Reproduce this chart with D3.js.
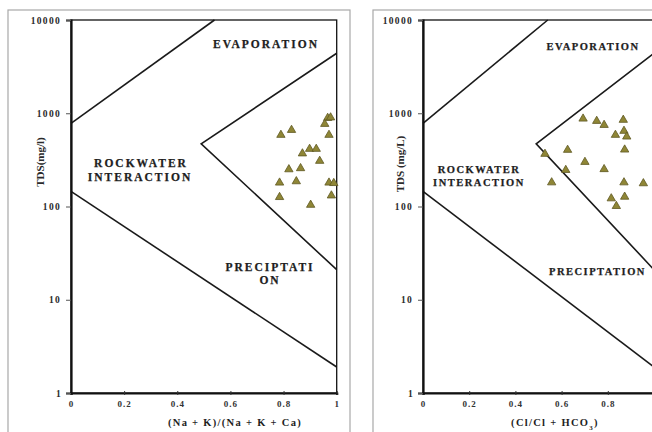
<!DOCTYPE html>
<html>
<head>
<meta charset="utf-8">
<script src="https://cdn.jsdelivr.net/npm/d3@7"></script>
<style>
body { margin:0; background:#fff; }
svg text { font-family: 'Liberation Serif', 'Times New Roman', serif; font-weight: bold; fill:#1e1e1e; }
</style>
</head>
<body>
<div id="chart"></div>
<script>
// tick values
var xTicks = [0, 0.2, 0.4, 0.6, 0.8, 1];
var yTicks = [1, 10, 100, 1000, 10000];
// Gibbs boundary lines [ratio, TDS]
var upperLeft = [[0, 780], [0.54, 10000]];
var lowerLeft = [[0, 145], [1, 1.9]];
var wedge = [[1, 4400], [0.49, 470], [1, 21]];
// samples, cation ratio
var naRatio = [0.79, 0.83, 0.966, 0.955, 0.971, 0.898, 0.923, 0.871, 0.936, 0.82, 0.864, 0.785, 0.848, 0.971, 0.989, 0.785, 0.98, 0.902, 0.977];
var tdsNa = [585, 661, 889, 767, 585, 414, 414, 370, 308, 250, 257, 180, 186, 180, 178, 126, 131, 104, 900];
// samples, anion ratio
var clRatio = [0.693, 0.752, 0.784, 0.867, 0.833, 0.87, 0.882, 0.626, 0.873, 0.528, 0.701, 0.784, 0.618, 0.557, 0.87, 0.954, 0.815, 0.873, 0.837];
var tdsCl = [874, 826, 748, 848, 585, 646, 561, 404, 407, 366, 300, 251, 246, 181, 181, 177, 122, 127, 101];

var svg = d3.select('#chart')
	.append('svg')
	.attr('width', 652)
	.attr('height', 432);

function panel(opt) {
	var g = svg.append('g');
	// outer frame
	g.append('rect')
		.attr('x', opt.box[0]).attr('y', 10)
		.attr('width', opt.box[1]-opt.box[0]).attr('height', 440)
		.style('fill', 'none').style('stroke', '#a8a8a8').style('stroke-width', 1.2);

	var x = d3.scaleLinear().domain([0, 1]).range([opt.x0, opt.x1]);
	var y = d3.scaleLog().domain([1, 10000]).range([393, 20]);

	// boundaries
	var line = d3.line().x(d=>x(d[0])).y(d=>y(d[1]));
	[upperLeft, lowerLeft, wedge].forEach(function (l) {
		g.append('path')
			.attr('d', line(l))
			.style('fill', 'none').style('stroke', '#1a1a1a').style('stroke-width', 1.6);
	});

	// plot frame
	g.append('rect')
		.attr('x', x(0)).attr('y', y(10000))
		.attr('width', x(1)-x(0)).attr('height', y(1)-y(10000))
		.style('fill', 'none').style('stroke', '#111').style('stroke-width', 1.3);

	// axes
	var xa = g.append('g')
		.attr('transform', 'translate(0,'+y(1)+')')
		.call(d3.axisBottom(x).tickValues(xTicks).tickSize(2).tickPadding(6).tickFormat(d3.format('')));
	xa.select('.domain').style('stroke', '#111').style('stroke-width', 2.2);
	xa.selectAll('.tick line').attr('y1', -2).style('stroke', '#333');
	xa.selectAll('.tick text').style('font-size', '9px').style('letter-spacing', '1px').style('fill', '#333');
	if (opt.hideLast) xa.selectAll('.tick').filter(d=>d===1).remove();

	var ya = g.append('g')
		.attr('transform', 'translate('+x(0)+',0)')
		.call(d3.axisLeft(y).tickValues(yTicks).tickSize(5).tickPadding(5).tickFormat(d3.format('d')));
	ya.select('.domain').style('stroke', '#111').style('stroke-width', 2.2);
	ya.selectAll('.tick line').style('stroke', '#555');
	ya.selectAll('.tick text').style('font-size', '9.5px').style('letter-spacing', '1.3px').style('fill', '#2a2a2a');
	ya.selectAll('.tick').filter(d=>d===1).select('text').attr('x', -9);

	// axis titles
	g.append('text')
		.attr('x', opt.xTitleX).attr('y', 426)
		.attr('text-anchor', 'middle')
		.style('font-size', '10.5px').style('letter-spacing', '1.3px')
		.html(opt.xTitle);
	g.append('text')
		.attr('transform', 'translate('+opt.yTitleX+','+opt.yTitleY+') rotate(-90)')
		.attr('text-anchor', 'middle')
		.style('font-size', '11px').style('fill', '#2a2a2a')
		.text(opt.yTitle);

	// region labels
	opt.labels.forEach(function (l) {
		g.append('text')
			.attr('x', l[0]).attr('y', l[1])
			.attr('text-anchor', l[3] || 'middle')
			.style('font-size', opt.labelSize+'px').style('letter-spacing', opt.labelSpacing+'px')
			.style('stroke', '#1e1e1e').style('stroke-width', 0.25)
			.text(l[2]);
	});

	// samples
	g.append('g')
		.selectAll('path')
		.data(opt.xs)
		.enter()
		.append('path')
		.attr('d', d3.symbol().type(d3.symbolTriangle).size(30))
		.attr('transform', (d, i)=>'translate('+x(d)+','+y(opt.ys[i])+')')
		.style('fill', '#8f8636')
		.style('stroke', '#5e5822')
		.style('stroke-width', 0.8);
}

panel({
	box: [8, 350], x0: 71, x1: 336.7,
	xs: naRatio, ys: tdsNa,
	xTitle: '(Na + K)/(Na + K + Ca)', xTitleX: 235,
	yTitle: 'TDS(mg/l)', yTitleX: 44, yTitleY: 162,
	labelSize: 11.5, labelSpacing: 2,
	labels: [[266, 48, 'EVAPORATION'], [141, 167, 'ROCKWATER'], [140, 181, 'INTERACTION'], [270, 271, 'PRECIPTATI'], [270, 284, 'ON']]
});

panel({
	box: [373, 700], x0: 423, x1: 654,
	hideLast: true,
	xs: clRatio, ys: tdsCl,
	xTitle: '(Cl/Cl + HCO<tspan baseline-shift="sub" style="font-size:7px">3</tspan>)', xTitleX: 555,
	yTitle: 'TDS (mg/L)', yTitleX: 404, yTitleY: 164,
	labelSize: 10.5, labelSpacing: 1.5,
	labels: [[593, 50, 'EVAPORATION'], [479, 173, 'ROCKWATER'], [479, 186, 'INTERACTION'], [549, 275, 'PRECIPTATION', 'start']]
});
</script>
</body>
</html>
